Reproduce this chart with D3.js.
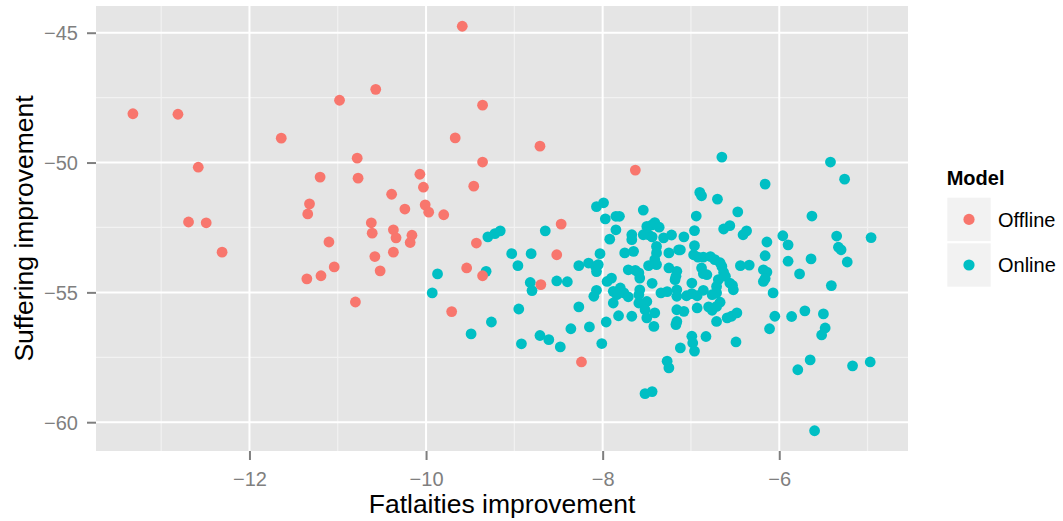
<!DOCTYPE html>
<html>
<head>
<meta charset="utf-8">
<script src="https://cdn.jsdelivr.net/npm/d3@7"></script>
<style>
  html, body { margin: 0; padding: 0; background: #ffffff; }
  svg { display: block; font-family: "Liberation Sans", Arial, Helvetica, sans-serif; }
</style>
</head>
<body>
<svg id="chart" width="1063" height="521"></svg>
<script>
// ---- Data ----
const categories = ["Offline", "Online"];
const colors = ["#F8766D", "#00BFC4"];

const offlineX = [-13.32,-12.81,-10.98,-11.64,-12.58,-10.78,-10.77,-11.20,-11.32,-11.34,
  -12.69,-12.49,-11.10,-10.62,-10.61,-9.59,-10.57,-9.36,-9.67,-8.71,
  -9.36,-7.63,-10.07,-10.03,-9.46,-10.39,-10.24,-10.01,-9.97,-9.80,
  -8.47,-10.37,-10.34,-10.16,-10.18,-10.58,-10.37,-10.52,-9.43,-9.54,
  -9.36,-8.52,-8.70,-9.71,-8.24,-10.80,-12.31,-11.04,-11.19,-11.35];
const offlineY = [-48.12,-48.14,-47.60,-49.06,-50.18,-49.83,-50.60,-50.56,-51.59,-51.98,
  -52.29,-52.32,-53.06,-52.32,-52.72,-44.75,-47.18,-47.79,-49.05,-49.37,
  -49.98,-50.29,-50.45,-50.95,-50.91,-51.22,-51.79,-51.63,-51.91,-52.01,
  -52.37,-52.59,-52.90,-52.80,-53.08,-53.62,-53.45,-54.17,-53.10,-54.06,
  -54.36,-53.55,-54.70,-55.74,-57.68,-55.37,-53.45,-54.02,-54.36,-54.48];

const onlineX = [-9.93,-9.87,-9.49,-9.32,-9.30,-9.22,-9.16,-9.26,-9.03,-8.96,
  -8.81,-8.82,-8.80,-8.95,-8.92,-8.71,-8.61,-8.65,-8.52,-8.40,
  -8.48,-8.36,-8.27,-8.27,-8.16,-8.15,-8.07,-8.10,-8.07,-7.99,
  -7.97,-7.85,-7.81,-7.54,-7.85,-7.92,-7.67,-7.67,-7.50,-7.44,
  -7.41,-7.36,-7.48,-7.44,-7.54,-7.31,-7.22,-7.08,-7.39,-7.39,
  -7.41,-7.39,-7.25,-7.14,-7.75,-7.65,-8.03,-8.08,-8.05,-8.07,
  -7.71,-7.63,-7.59,-7.58,-7.48,-7.95,-7.90,-7.25,-7.16,-7.18,
  -7.44,-7.88,-7.80,-7.76,-7.71,-7.59,-7.58,-7.34,-7.27,-7.16,
  -7.84,-7.88,-7.82,-7.59,-7.50,-7.52,-7.50,-7.42,-7.41,-7.67,
  -7.16,-7.16,-7.17,-7.96,-8.01,-7.27,-7.25,-7.52,-7.44,-7.12,
  -6.65,-6.90,-6.88,-6.70,-6.47,-6.94,-6.63,-6.56,-6.41,-6.37,
  -6.96,-6.14,-5.96,-6.16,-7.12,-6.96,-6.97,-6.92,-6.86,-6.78,
  -6.73,-6.67,-6.65,-6.16,-6.44,-6.34,-6.18,-6.14,-7.17,-6.88,
  -6.86,-6.82,-6.63,-6.61,-6.69,-6.18,-6.16,-6.56,-6.53,-6.99,
  -6.86,-6.71,-6.71,-7.16,-6.99,-6.93,-6.76,-6.07,-7.05,-6.67,
  -6.71,-6.52,-7.08,-6.93,-6.80,-6.76,-6.71,-6.59,-6.54,-6.48,
  -6.05,-6.11,-6.83,-6.99,-6.98,-6.49,-6.96,-5.42,-5.26,-5.63,
  -5.90,-5.35,-4.96,-5.33,-5.30,-5.90,-5.64,-5.23,-5.77,-5.41,
  -5.86,-5.71,-5.50,-5.48,-5.52,-5.65,-5.79,-5.17,-4.97,-5.60];
const onlineY = [-55.02,-54.29,-56.60,-54.19,-52.86,-52.74,-52.63,-56.14,-53.51,-53.97,
  -53.51,-54.62,-54.93,-55.64,-56.98,-56.66,-56.82,-52.63,-54.56,-54.59,
  -57.10,-56.40,-53.97,-55.56,-53.87,-56.33,-54.92,-55.15,-51.70,-51.55,
  -52.17,-52.07,-52.07,-51.83,-52.59,-52.95,-52.78,-52.97,-52.46,-52.40,
  -52.31,-52.49,-52.78,-52.86,-52.78,-52.90,-52.79,-52.86,-53.23,-53.48,
  -53.74,-53.93,-53.48,-53.36,-53.48,-53.42,-53.51,-54.00,-53.93,-54.20,
  -54.13,-54.15,-54.25,-54.45,-53.97,-54.58,-54.45,-54.06,-54.19,-54.51,
  -54.65,-54.96,-54.83,-55.02,-55.17,-55.09,-54.90,-55.02,-54.97,-54.90,
  -55.09,-55.41,-55.90,-55.41,-55.35,-55.67,-55.98,-56.31,-55.79,-55.92,
  -55.67,-56.12,-56.24,-56.14,-56.97,-57.65,-57.91,-58.90,-58.82,-57.14,
  -49.79,-51.15,-51.28,-51.41,-51.90,-52.06,-52.56,-52.43,-52.78,-52.63,
  -52.62,-53.06,-52.82,-50.83,-53.36,-53.20,-53.55,-53.64,-53.64,-53.62,
  -53.74,-53.86,-54.00,-53.59,-53.97,-53.95,-54.13,-54.22,-54.38,-54.06,
  -54.28,-54.32,-54.23,-54.38,-54.51,-54.58,-54.47,-54.64,-54.73,-54.64,
  -54.92,-54.77,-55.02,-55.15,-55.05,-55.13,-55.09,-55.02,-55.13,-55.38,
  -55.54,-54.90,-55.73,-55.60,-55.56,-55.69,-56.12,-55.98,-55.92,-55.79,
  -55.92,-56.40,-56.70,-56.69,-56.95,-56.91,-57.26,-49.98,-50.64,-52.06,
  -53.17,-52.83,-52.89,-53.26,-53.36,-53.80,-53.71,-53.83,-54.29,-54.74,
  -55.93,-55.71,-55.83,-56.37,-56.64,-57.60,-57.98,-57.83,-57.68,-60.33];

const xTicks = [-12, -10, -8, -6];
const yTicks = [-60, -55, -50, -45];
const xTitle = "Fatlaities improvement";
const yTitle = "Suffering improvement";
const legendTitle = "Model";

// ---- Layout ----
const panel = { left: 96, top: 6, right: 908, bottom: 451 };
const svg = d3.select("#chart");

function expand(ext, f) { const r = ext[1] - ext[0]; return [ext[0] - f * r, ext[1] + f * r]; }
const allX = offlineX.concat(onlineX), allY = offlineY.concat(onlineY);
const x = d3.scaleLinear().domain(expand(d3.extent(allX), 0.05)).range([panel.left, panel.right]);
const y = d3.scaleLinear().domain(expand(d3.extent(allY), 0.05)).range([panel.bottom, panel.top]);

// panel background
svg.append("rect")
  .attr("x", panel.left).attr("y", panel.top)
  .attr("width", panel.right - panel.left).attr("height", panel.bottom - panel.top)
  .attr("fill", "#E5E5E5");

function minorOf(ticks, dom) {
  const step = ticks[1] - ticks[0];
  const out = [];
  for (let v = ticks[0] - step / 2; v <= dom[1]; v += step) if (v >= dom[0]) out.push(v);
  return out;
}
const xMinor = minorOf(xTicks, x.domain());
const yMinor = minorOf(yTicks, y.domain());

const grid = svg.append("g");
grid.selectAll(".xmin").data(xMinor).join("line")
  .attr("x1", d => x(d)).attr("x2", d => x(d)).attr("y1", panel.top).attr("y2", panel.bottom)
  .attr("stroke", "#F2F2F2").attr("stroke-width", 1.2);
grid.selectAll(".ymin").data(yMinor).join("line")
  .attr("y1", d => y(d)).attr("y2", d => y(d)).attr("x1", panel.left).attr("x2", panel.right)
  .attr("stroke", "#F2F2F2").attr("stroke-width", 1.2);
grid.selectAll(".xmaj").data(xTicks).join("line")
  .attr("x1", d => x(d)).attr("x2", d => x(d)).attr("y1", panel.top).attr("y2", panel.bottom)
  .attr("stroke", "#FFFFFF").attr("stroke-width", 2);
grid.selectAll(".ymaj").data(yTicks).join("line")
  .attr("y1", d => y(d)).attr("y2", d => y(d)).attr("x1", panel.left).attr("x2", panel.right)
  .attr("stroke", "#FFFFFF").attr("stroke-width", 2);

// points: Online first, Offline on top
const pts = svg.append("g");
const series = [
  { name: categories[1], xs: onlineX, ys: onlineY, color: colors[1] },
  { name: categories[0], xs: offlineX, ys: offlineY, color: colors[0] }
];
series.forEach(s => {
  pts.selectAll(null).data(s.xs.map((v, i) => [v, s.ys[i]])).join("circle")
    .attr("cx", d => x(d[0])).attr("cy", d => y(d[1])).attr("r", 5.4)
    .attr("fill", s.color);
});

// axes
const xAxis = svg.append("g").attr("transform", `translate(0,${panel.bottom})`)
  .call(d3.axisBottom(x).tickValues(xTicks).tickSize(9).tickPadding(12));
const yAxis = svg.append("g").attr("transform", `translate(${panel.left},0)`)
  .call(d3.axisLeft(y).tickValues(yTicks).tickSize(9).tickPadding(9));
[xAxis, yAxis].forEach(a => {
  a.select(".domain").remove();
  a.selectAll(".tick line").attr("stroke", "#7F7F7F").attr("stroke-width", 2);
  a.selectAll(".tick text").attr("fill", "#7F7F7F").style("font-size", "20px")
    .style("font-family", '"Liberation Sans", Arial, Helvetica, sans-serif');
});
yAxis.selectAll(".tick text").attr("dy", "0.36em");

// axis titles
svg.append("text").attr("x", (panel.left + panel.right) / 2).attr("y", 513)
  .attr("text-anchor", "middle").style("font-size", "26.5px").attr("fill", "#000")
  .text(xTitle);
svg.append("text")
  .attr("transform", `translate(33,${(panel.top + panel.bottom) / 2}) rotate(-90)`)
  .attr("text-anchor", "middle").style("font-size", "26.5px").attr("fill", "#000")
  .text(yTitle);

// legend
const lg = svg.append("g");
lg.append("text").attr("x", 946.7).attr("y", 185).style("font-size", "20px")
  .style("font-weight", "bold").text(legendTitle);
const keySize = 43.4;
categories.forEach((c, i) => {
  const ky = 197.7 + i * (keySize + 2.2);
  lg.append("rect").attr("x", 947.3).attr("y", ky).attr("width", keySize).attr("height", keySize)
    .attr("fill", "#F2F2F2");
  lg.append("circle").attr("cx", 947.3 + keySize / 2).attr("cy", ky + keySize / 2).attr("r", 5.6)
    .attr("fill", colors[i]);
  lg.append("text").attr("x", 998).attr("y", ky + keySize / 2 + 7.2).style("font-size", "20px")
    .text(c);
});
</script>
</body>
</html>
